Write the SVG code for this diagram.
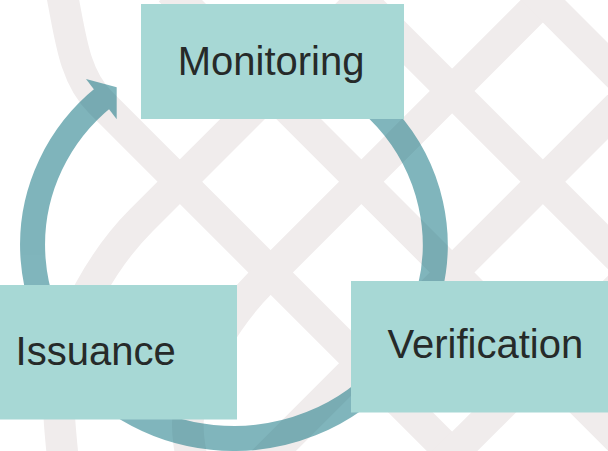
<svg xmlns="http://www.w3.org/2000/svg" width="608" height="451" viewBox="0 0 608 451">
  <style>
    .band { fill: none; stroke: #f0ecec; stroke-width: 31.6; stroke-linecap: butt; }
    .box { fill: #a7d8d5; }
    .label { font-family: "Liberation Sans", Arial, sans-serif; font-size: 40px; fill: #262a29; }
    .ring { fill: none; stroke: #016b79; stroke-width: 25; }
  </style>
  <rect width="608" height="451" fill="#ffffff"/>
  <g id="background">
    <path class="band" d="M 60,-15 C 70,30 72,74 100,101.85 L 700,701.85"/>
    <path class="band" d="M 420,-58.45 L 141.55,220 C 110,251.55 62,320 59,390 C 58,410 60,430 64,470"/>
    <path class="band" d="M 620,-76.95 L 262,281.05 C 230,313 192,370 188,420 C 187,435 190,450 194,470"/>
    <path class="band" d="M 170,-9.65 L 700,520.35"/>
    <path class="band" d="M 350,-11.15 L 700,338.85"/>
    <path class="band" d="M 530,-12.65 L 700,157.35"/>
    <path class="band" d="M 730,-5.45 L 250,474.55"/>
    <path class="band" d="M 920,-13.95 L 430,476.05"/>
  </g>
  <g id="connectors" opacity="0.5">
    <path class="ring" d="M 216.3,52.2 A 201.35 193.5 0 1 1 104.4,96.8"/>
    <polygon fill="#016b79" points="86,79 116.7,87.3 116.7,119.3"/>
  </g>
  <g id="node-monitoring">
    <rect class="box" x="141" y="4" width="263" height="115"/>
    <text class="label" x="177.7" y="75">Monitoring</text>
  </g>
  <g id="node-issuance">
    <rect class="box" x="0" y="285" width="237" height="134.5"/>
    <text class="label" x="15.6" y="365">Issuance</text>
  </g>
  <g id="node-verification">
    <rect class="box" x="351" y="281" width="257" height="131.5"/>
    <text class="label" x="387.5" y="358.3">Verification</text>
  </g>
</svg>
